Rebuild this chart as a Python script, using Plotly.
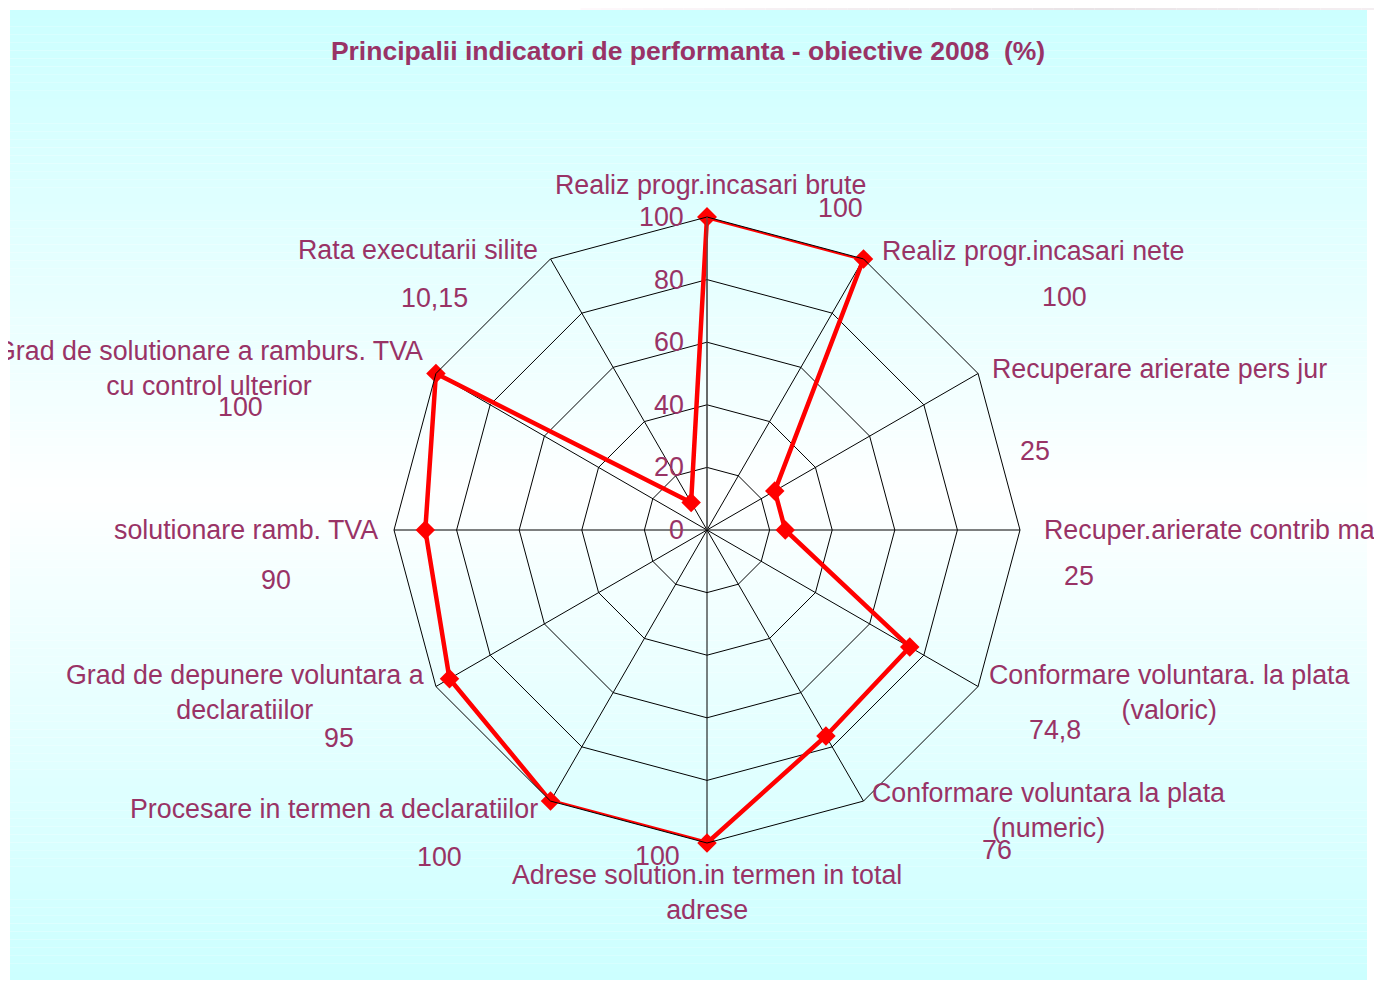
import plotly.graph_objects as go

# data
categories = [
    "Realiz progr.incasari brute",
    "Realiz progr.incasari nete",
    "Recuperare arierate pers jur",
    "Recuper.arierate contrib mari",
    "Conformare voluntara. la plata (valoric)",
    "Conformare voluntara la plata (numeric)",
    "Adrese solution.in termen in total adrese",
    "Procesare in termen a declaratiilor",
    "Grad de depunere voluntara a declaratiilor",
    "solutionare ramb. TVA",
    "Grad de solutionare a ramburs. TVA cu control ulterior",
    "Rata executarii silite",
]
category_text = [
    "Realiz progr.incasari brute",
    "Realiz progr.incasari nete",
    "Recuperare arierate pers jur",
    "Recuper.arierate contrib mari",
    "Conformare voluntara. la plata<br>(valoric)",
    "Conformare voluntara la plata<br>(numeric)",
    "Adrese solution.in termen in total<br>adrese",
    "Procesare in termen a declaratiilor",
    "Grad de depunere voluntara a<br>declaratiilor",
    "solutionare ramb. TVA",
    "Grad de solutionare a ramburs. TVA<br>cu control ulterior",
    "Rata executarii silite",
]
values = [100, 100, 25, 25, 74.8, 76, 100, 100, 95, 90, 100, 10.15]
radial_ticks = [0, 20, 40, 60, 80, 100]

# page body has an 8px margin, so the figure is a bit smaller than the window
OFF = 8
W, H = 1382 - OFF, 981 - OFF
TEXT = "#993366"
FONT = "Liberation Sans, Arial, sans-serif"
FS = 26.8


def px(x):
    return (x - OFF) / W


def py(y):
    return 1 - (y - OFF) / H


# label placement in window pixels (x, y, anchor)
label_pos = [
    (710, 185, "center"), (880, 251, "left"), (990, 369, "left"),
    (1042, 530, "left"), (1169, 692, "center"), (1048, 810, "center"),
    (707, 892, "center"), (540, 809, "right"), (245, 692, "center"),
    (380, 530, "right"), (209, 369, "center"), (540, 250, "right"),
]
value_pos = [
    (840, 208), (1064, 297), (1035, 451), (1079, 576), (1055, 730), (997, 850),
    (657, 856), (439, 857), (339, 738), (276, 580), (241, 407), (434, 298),
]

fig = go.Figure()
fig.add_trace(go.Scatterpolar(
    r=values + values[:1],
    theta=categories + categories[:1],
    mode="lines+markers",
    line=dict(color="#FF0000", width=4.5),
    marker=dict(symbol="diamond", size=15, color="#FF0000"),
    cliponaxis=False,
    showlegend=False,
))

# background panel with vertical cyan-white-cyan gradient
shapes = []
top, bot, mid = 10, 980, 495
n = 120
for i in range(n):
    y0 = top + (bot - top) * i / n
    y1 = top + (bot - top) * (i + 1) / n
    yc = (y0 + y1) / 2
    t = abs(yc - mid) / (mid - top if yc < mid else bot - mid)
    t = min(1.0, t) ** 0.9
    r = round(255 - (255 - 204) * t)
    shapes.append(dict(type="rect", xref="paper", yref="paper", layer="below",
                       x0=px(10), x1=px(1367), y0=py(y1), y1=py(y0),
                       fillcolor=f"rgb({r},255,255)", line=dict(width=0)))

# faint grey strip along the top right edge of the slide
m = 40
for i in range(m):
    x0 = 560 + (1382 - 560) * i / m
    x1 = 560 + (1382 - 560) * (i + 1) / m
    s = (i + 0.5) / m
    k = max(0.0, 1 - abs(s - 0.65) / 0.65)
    g = round(255 - 22 * k)
    shapes.append(dict(type="rect", xref="paper", yref="paper", layer="below",
                       x0=px(x0), x1=px(x1), y0=py(10), y1=1,
                       fillcolor=f"rgb({g},{g - 6 if g < 255 else 255},{g - 3 if g < 255 else 255})",
                       line=dict(width=0)))

cx, cy, R = 707, 530, 313

annotations = []
for txt, (x, y, anc) in zip(category_text, label_pos):
    annotations.append(dict(text=txt, x=px(x), y=py(y), xref="paper", yref="paper",
                            xanchor=anc, yanchor="middle", align="center", showarrow=False,
                            font=dict(family=FONT, size=FS, color=TEXT)))
for v, (x, y) in zip(values, value_pos):
    annotations.append(dict(text=f"{v:g}".replace(".", ","), x=px(x), y=py(y),
                            xref="paper", yref="paper", xanchor="center", yanchor="middle",
                            showarrow=False, font=dict(family=FONT, size=FS, color=TEXT)))
# radial tick labels, left of the vertical axis
for t in radial_ticks:
    annotations.append(dict(text=str(t), x=px(cx - 21), y=py(cy - R * t / 100),
                            xref="paper", yref="paper", xanchor="right", yanchor="middle",
                            showarrow=False, font=dict(family=FONT, size=FS, color=TEXT)))

fig.update_layout(
    width=W, height=H,
    margin=dict(l=0, r=0, t=0, b=0),
    paper_bgcolor="white",
    title=dict(text="<b>Principalii indicatori de performanta - obiective 2008  (%)</b>",
               x=px(688), xanchor="center", y=py(51), yanchor="middle",
               font=dict(family=FONT, size=26.5, color=TEXT)),
    polar=dict(
        domain=dict(x=[px(cx - R), px(cx + R)], y=[py(cy + R), py(cy - R)]),
        bgcolor="rgba(0,0,0,0)",
        gridshape="linear",
        radialaxis=dict(range=[0, 100], tickvals=radial_ticks, angle=90,
                        showticklabels=False, ticks="",
                        showline=True, linecolor="#555555", linewidth=1,
                        gridcolor="black", gridwidth=1),
        angularaxis=dict(direction="clockwise", rotation=90, showticklabels=False, ticks="",
                         showline=True, linecolor="black", linewidth=1,
                         gridcolor="black", gridwidth=1),
    ),
    shapes=shapes,
    annotations=annotations,
)

fig.write_html("out.html")
